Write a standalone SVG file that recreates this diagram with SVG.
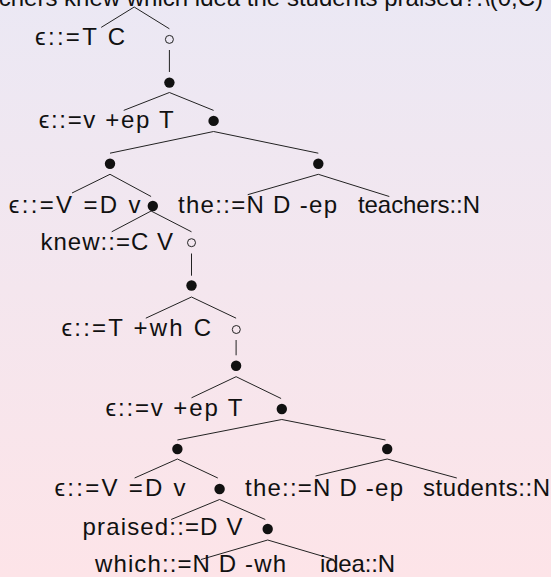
<svg xmlns="http://www.w3.org/2000/svg" width="551" height="577" viewBox="0 0 551 577">
<defs>
<linearGradient id="bg" x1="0" y1="0" x2="0" y2="1">
<stop offset="0" stop-color="#ebe8f4"/>
<stop offset="1" stop-color="#fde4e8"/>
</linearGradient>
<style>
text{font-family:"Liberation Sans","DejaVu Sans",sans-serif;font-size:24px;fill:#111}
.e line{stroke:#222;stroke-width:1}
.dot{fill:#111}
.open{fill:none;stroke:#222;stroke-width:1}
</style>
</defs>
<rect width="551" height="577" fill="url(#bg)"/>
<g id="title"><text x="543" y="6" text-anchor="end">teachers knew which idea the students praised?.\(0,C)</text></g>
<g class="e" id="connectors">
<line x1="134.2" y1="7" x2="101.2" y2="27.4"/><line x1="134.2" y1="7" x2="169.4" y2="28.8"/>
<line x1="169.4" y1="50" x2="169.4" y2="72"/>
<line x1="169.4" y1="92.5" x2="123.7" y2="110.4"/><line x1="169.4" y1="92.5" x2="213.6" y2="110.4"/>
<line x1="213.6" y1="131.5" x2="110" y2="153.2"/><line x1="213.6" y1="131.5" x2="318.3" y2="153.2"/>
<line x1="110" y1="174.3" x2="72" y2="193"/><line x1="110" y1="174.3" x2="151.1" y2="196.5"/>
<line x1="318.3" y1="174.3" x2="247.7" y2="194.7"/><line x1="318.3" y1="174.3" x2="389.3" y2="196.5"/>
<line x1="151.1" y1="211" x2="111.7" y2="231.8"/><line x1="151.1" y1="211" x2="191.5" y2="231.8"/>
<line x1="191.5" y1="253.5" x2="191.5" y2="275.7"/>
<line x1="191.5" y1="297" x2="145.8" y2="318.2"/><line x1="191.5" y1="297" x2="236.1" y2="318.2"/>
<line x1="236.1" y1="340" x2="236.1" y2="355.3"/>
<line x1="236.1" y1="376.7" x2="191.5" y2="397.8"/><line x1="236.1" y1="376.7" x2="281.1" y2="398.5"/>
<line x1="281.8" y1="419.5" x2="177.4" y2="440"/><line x1="281.8" y1="419.5" x2="385.5" y2="440"/>
<line x1="177.4" y1="459" x2="134.6" y2="478"/><line x1="177.4" y1="459" x2="217.8" y2="478"/>
<line x1="387.2" y1="459" x2="315.5" y2="476"/><line x1="387.2" y1="459" x2="456.8" y2="478"/>
<line x1="219.6" y1="499.5" x2="171.1" y2="519.5"/><line x1="219.6" y1="499.5" x2="265.3" y2="519.5"/>
<line x1="267.7" y1="540" x2="201" y2="559.5"/><line x1="267.7" y1="540" x2="333.8" y2="559.5"/>
</g>
<g id="leaf-c"><text x="35" y="45" textLength="90">ϵ::=T C</text></g>
<g id="n1"><circle class="open" cx="169.4" cy="39.4" r="4"/></g>
<g id="n2"><circle class="dot" cx="169.4" cy="82.6" r="5.2"/></g>
<g id="leaf-t1"><text x="38.7" y="128" textLength="135">ϵ::=v +ep T</text></g>
<g id="n3"><circle class="dot" cx="213.6" cy="120.9" r="5.2"/></g>
<g id="n4"><circle class="dot" cx="110" cy="163.8" r="5.2"/></g>
<g id="n5"><circle class="dot" cx="318.3" cy="163.8" r="5.2"/></g>
<g id="leaf-v1"><text x="8.8" y="213" textLength="131.7">ϵ::=V =D v</text></g>
<g id="n6"><circle class="dot" cx="152.8" cy="206" r="5.2"/></g>
<g id="leaf-the1"><text x="178" y="213" textLength="159">the::=N D -ep</text></g>
<g id="leaf-teachers"><text x="358" y="213" textLength="122">teachers::N</text></g>
<g id="leaf-knew"><text x="40.4" y="250" textLength="132.6">knew::=C V</text></g>
<g id="n7"><circle class="open" cx="191.5" cy="242.7" r="4"/></g>
<g id="n8"><circle class="dot" cx="191.5" cy="285.5" r="5.2"/></g>
<g id="leaf-c2"><text x="61.5" y="336" textLength="149.5">ϵ::=T +wh C</text></g>
<g id="n9"><circle class="open" cx="236.3" cy="329.5" r="4"/></g>
<g id="n10"><circle class="dot" cx="236.1" cy="365.8" r="5.2"/></g>
<g id="leaf-t2"><text x="105.4" y="416" textLength="137">ϵ::=v +ep T</text></g>
<g id="n11"><circle class="dot" cx="281.8" cy="409" r="5.2"/></g>
<g id="n12"><circle class="dot" cx="177.4" cy="449" r="5.2"/></g>
<g id="n13"><circle class="dot" cx="387.2" cy="449" r="5.2"/></g>
<g id="leaf-v2"><text x="54.5" y="496" textLength="131">ϵ::=V =D v</text></g>
<g id="n14"><circle class="dot" cx="219.6" cy="489" r="5.2"/></g>
<g id="leaf-the2"><text x="245" y="496" textLength="158">the::=N D -ep</text></g>
<g id="leaf-students"><text x="423" y="496" textLength="127">students::N</text></g>
<g id="leaf-praised"><text x="82.6" y="535" textLength="159.8">praised::=D V</text></g>
<g id="n15"><circle class="dot" cx="267.7" cy="529" r="5.2"/></g>
<g id="leaf-which"><text x="95" y="572" textLength="191">which::=N D -wh</text></g>
<g id="leaf-idea"><text x="320" y="572" textLength="75">idea::N</text></g>
</svg>
